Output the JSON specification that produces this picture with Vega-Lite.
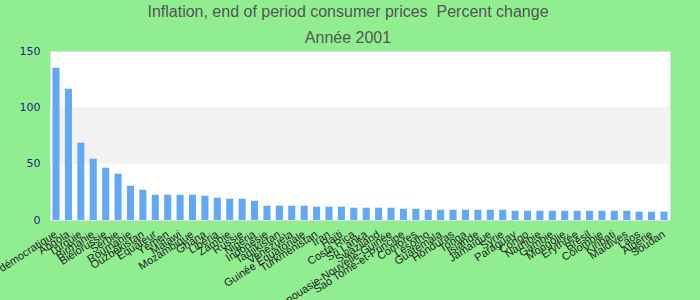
{
  "$schema": "https://vega.github.io/schema/vega-lite/v6.json",
  "width": 620,
  "height": 169,
  "autosize": {"type": "none"},
  "padding": {"left": 50, "top": 51, "right": 30, "bottom": 80},
  "background": "#90ee90",
  "title": {
    "text": "Inflation, end of period consumer prices \u00a0Percent change",
    "subtitle": "Année 2001",
    "anchor": "middle",
    "dx": -12,
    "font": "Liberation Sans",
    "subtitleFont": "Liberation Sans",
    "fontSize": 16,
    "subtitleFontSize": 16,
    "fontWeight": "normal",
    "color": "#555555",
    "subtitleColor": "#555555",
    "subtitlePadding": 10,
    "offset": -1
  },
  "config": {
    "view": {"stroke": "#dddddd", "fill": "white"},
    "axis": {"grid": false, "domain": false, "ticks": false, "title": null}
  },
  "data": {
    "values": [
      {"pays": "Congo, République démocratique", "v": 135.1},
      {"pays": "Angola", "v": 116.5},
      {"pays": "Turquie", "v": 68.6},
      {"pays": "Birmanie", "v": 54.4},
      {"pays": "Biélorussie", "v": 46.4},
      {"pays": "Serbie", "v": 41.1},
      {"pays": "Roumanie", "v": 30.4},
      {"pays": "Ouzbékistan", "v": 26.9},
      {"pays": "Équateur", "v": 22.4},
      {"pays": "Yémen", "v": 22.4},
      {"pays": "Malawi", "v": 22.4},
      {"pays": "Mozambique", "v": 22.4},
      {"pays": "Ghana", "v": 21.5},
      {"pays": "Libéria", "v": 19.8},
      {"pays": "Zambie", "v": 18.9},
      {"pays": "Russie", "v": 18.9},
      {"pays": "Nigéria", "v": 17.1},
      {"pays": "Indonésie", "v": 12.7},
      {"pays": "Tadjikistan", "v": 12.7},
      {"pays": "Venezuela", "v": 12.7},
      {"pays": "Guinée Équatoriale", "v": 12.7},
      {"pays": "Turkménistan", "v": 11.8},
      {"pays": "Iran", "v": 11.8},
      {"pays": "Haïti", "v": 11.8},
      {"pays": "Costa Rica", "v": 10.9},
      {"pays": "Sri Lanka", "v": 10.9},
      {"pays": "Swaziland", "v": 10.9},
      {"pays": "Papouasie-Nouvelle-Guinée", "v": 10.9},
      {"pays": "Sao Tomé-et-Principe", "v": 10.0},
      {"pays": "Comores", "v": 10.0},
      {"pays": "Lesotho", "v": 9.1},
      {"pays": "Guatemala", "v": 9.1},
      {"pays": "Honduras", "v": 9.1},
      {"pays": "Tonga", "v": 9.1},
      {"pays": "Islande", "v": 9.1},
      {"pays": "Jamaïque", "v": 9.1},
      {"pays": "Syrie", "v": 9.1},
      {"pays": "Paraguay", "v": 8.2},
      {"pays": "Congo", "v": 8.2},
      {"pays": "Namibie", "v": 8.2},
      {"pays": "Gambie", "v": 8.2},
      {"pays": "Mongolie", "v": 8.2},
      {"pays": "Érythrée", "v": 8.2},
      {"pays": "Brésil", "v": 8.2},
      {"pays": "Colombie", "v": 8.2},
      {"pays": "Kiribati", "v": 8.2},
      {"pays": "Maldives", "v": 8.2},
      {"pays": "Laos", "v": 7.4},
      {"pays": "Algérie", "v": 7.4},
      {"pays": "Soudan", "v": 7.4}
    ]
  },
  "layer": [
    {
      "data": {"values": [{"lo": 50, "hi": 100}]},
      "mark": {"type": "rect", "color": "#f2f2f2"},
      "encoding": {
        "x": {"value": 0},
        "x2": {"value": "width"},
        "y": {"field": "lo", "type": "quantitative", "scale": {"domain": [0, 150]}},
        "y2": {"field": "hi"}
      }
    },
    {
      "mark": {"type": "bar", "color": "#62a9f5"},
      "encoding": {
        "x": {
          "field": "pays",
          "type": "nominal",
          "sort": null,
          "scale": {"paddingInner": 0.43, "paddingOuter": 0.2},
          "axis": {
            "labelAngle": -33,
            "labelFont": "Liberation Sans",
            "labelFontSize": 11,
            "labelColor": "#222222",
            "labelOverlap": false,
            "labelLimit": 400,
            "labelPadding": 8,
            "labelOffset": -3
          }
        },
        "y": {
          "field": "v",
          "type": "quantitative",
          "scale": {"domain": [0, 150]},
          "axis": {
            "values": [0, 50, 100, 150],
            "labelFont": "DejaVu Sans",
            "labelFontSize": 11,
            "labelColor": "#22228b",
            "labelPadding": 10
          }
        }
      }
    }
  ]
}
